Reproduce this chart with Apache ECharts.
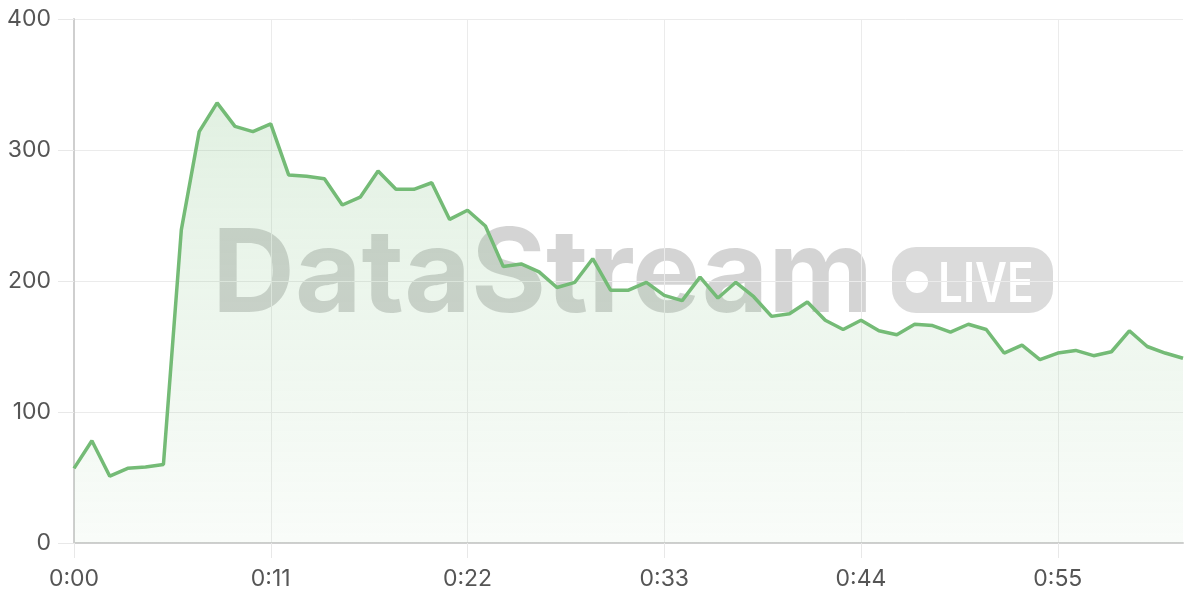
<!DOCTYPE html>
<html><head><meta charset="utf-8">
<script src="https://cdn.jsdelivr.net/npm/echarts@6/dist/echarts.min.js"></script>
<style>html,body{margin:0;padding:0;background:#fff}#c{width:1200px;height:600px}</style>
</head><body><div id="c"></div>
<script>
const categories = [];
for (let s = 0; s <= 62; s++) categories.push(Math.floor(s/60) + ':' + String(s%60).padStart(2,'0'));
const values = [57,78,51,57,58,60,239,314,336,318,314,320,281,280,278,258,264,284,270,270,275,247,254,242,211,213,207,195,199,217,193,193,199,189,185,203,187,199,188,173,175,184,170,163,170,162,159,167,166,161,167,163,145,151,140,145,147,143,146,162,150,145,141];
const yTicks = [0,100,200,300,400];

const chart = echarts.init(document.getElementById('c'), null, {renderer:'canvas'});
chart.setOption({
  animation:false,
  grid:{left:74,right:17,top:19,bottom:57},
  graphic:[
    {type:'text', z:-10, x:212, y:219, scaleX:0.99, style:{text:'DataStream', font:'bold 116px Inter, "Noto Sans", sans-serif', fill:'rgba(0,0,0,0.17)'}},
    {type:'rect', z:-10, shape:{x:892,y:247,width:161,height:66,r:24}, style:{fill:'rgba(0,0,0,0.14)'}},
    {type:'circle', z:-9, shape:{cx:917,cy:282,r:11}, style:{fill:'#fff'}},
    {type:'text', z:-9, x:938, y:258, scaleX:0.8, style:{text:'LIVE', font:'600 55px Inter, "Noto Sans", sans-serif', fill:'#fff'}}
  ],
  xAxis:{type:'category', data:categories, boundaryGap:false,
    axisLine:{lineStyle:{color:'#cfcfcf',width:2}},
    axisTick:{show:true, interval:10, length:15, lineStyle:{color:'#e8e8e8'}},
    axisLabel:{interval:10, color:'#555', fontSize:23, margin:25, fontFamily:'Inter, sans-serif'},
    splitLine:{show:true, interval:10, lineStyle:{color:'#ebebeb'}}
  },
  yAxis:{type:'value', min:0, max:400, interval:100,
    axisLine:{show:true, lineStyle:{color:'#cfcfcf',width:2}},
    axisTick:{show:true, length:16, lineStyle:{color:'#e8e8e8'}},
    axisLabel:{color:'#555', fontSize:23, margin:23, fontFamily:'Inter, sans-serif'},
    splitLine:{lineStyle:{color:'#ebebeb'}}
  },
  series:[{type:'line', data:values, symbol:'none', smooth:false,
    lineStyle:{color:'#74bb76', width:3.5},
    areaStyle:{color:new echarts.graphic.LinearGradient(0,0,0,1,[{offset:0,color:'rgba(116,187,118,0.30)'},{offset:1,color:'rgba(116,187,118,0.06)'}])}
  }]
});
</script></body></html>
